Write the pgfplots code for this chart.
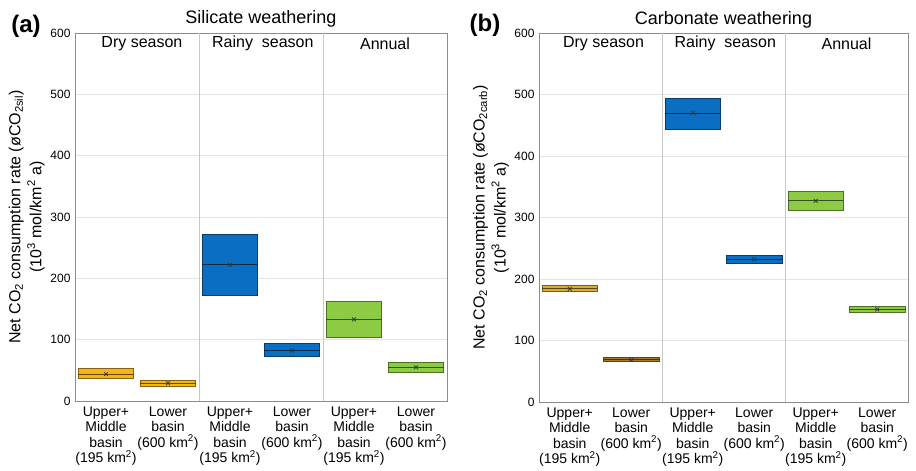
\documentclass[border=0pt]{standalone}
\usepackage{fontspec}
\setmainfont{Liberation Sans}
\usepackage{pgfplots}
\pgfplotsset{compat=1.18}
\definecolor{dryA}{HTML}{F5B417}
\definecolor{dryB}{HTML}{F5B417}
\definecolor{dryC}{HTML}{D9AE2E}
\definecolor{dryD}{HTML}{A8782A}
\definecolor{rainy}{HTML}{0A6FC2}
\definecolor{annual}{HTML}{8DCB45}
\definecolor{gridc}{HTML}{E3E3E3}
\definecolor{divc}{HTML}{C8C8C8}
% #1 left, #2 right, #3 lower quartile, #4 median, #5 upper quartile, #6 colour
\newcommand{\bx}[6]{%
  \addplot[fill=#6, draw=#6!55!black, line width=0.8pt]
    coordinates {(#1,#3) (#2,#3) (#2,#5) (#1,#5)} -- cycle;
  \addplot[draw=#6!40!black, line width=0.8pt]
    coordinates {(#1,#4) (#2,#4)};}
\pgfplotsset{
  mystyle/.style={
    scale only axis,
    ymin=0, ymax=600, ytick={0,100,...,600},
    xmin=-0.5, xmax=5.5,
    xtick={0,...,5},
    xticklabels={{Upper+\\Middle\\basin\\(195 km\textsuperscript{2})},{Lower\\basin\\(600 km\textsuperscript{2})},
                 {Upper+\\Middle\\basin\\(195 km\textsuperscript{2})},{Lower\\basin\\(600 km\textsuperscript{2})},
                 {Upper+\\Middle\\basin\\(195 km\textsuperscript{2})},{Lower\\basin\\(600 km\textsuperscript{2})}},
    xticklabel style={align=center, font=\fontsize{14}{15.5}\selectfont, yshift=-2pt},
    yticklabel style={font=\fontsize{12}{14}\selectfont, xshift=-1pt},
    /pgf/number format/assume math mode=true,
    major tick length=0pt,
    ymajorgrids, grid style={gridc, line width=0.8pt},
    axis line style={black!45, line width=0.9pt},
    title style={font=\fontsize{18}{20}\selectfont, at={(0.5,1)}, anchor=base, yshift=3pt},
    ylabel style={font=\fontsize{16}{21}\selectfont, align=center, anchor=south, inner sep=0pt},
    clip=false,
  }
}
\begin{document}
\begin{tikzpicture}
\useasboundingbox (-75pt,-70pt) rectangle (841pt,401pt);
\begin{axis}[mystyle, width=372pt, height=368pt, at={(0pt,0pt)},
  title={Silicate weathering},
  ylabel style={at={(axis description cs:-0.081,0.5)}},
  ylabel={Net CO\textsubscript{2} consumption rate (øCO\textsubscript{2sil})\\(10\textsuperscript{3} mol/km\textsuperscript{2} a)}]
\addplot[divc, line width=0.9pt] coordinates {(1.5,0) (1.5,600)};
\addplot[divc, line width=0.9pt] coordinates {(3.5,0) (3.5,600)};
\bx{-0.45}{0.45}{37}{44}{52.5}{dryA}
\bx{0.55}{1.45}{23}{29}{34}{dryB}
\bx{1.55}{2.45}{172}{222}{272}{rainy}
\bx{2.55}{3.45}{72}{82}{93.5}{rainy}
\bx{3.55}{4.45}{103}{133}{162.5}{annual}
\bx{4.55}{5.45}{47}{55.5}{63.5}{annual}
\addplot[only marks, mark=x, mark size=2.8pt, black!80, line width=0.7pt]
  coordinates {(0,44) (1,29) (2,222) (3,82) (4,133) (5,55)};
\node[font=\fontsize{16}{18}\selectfont] at (axis cs:0.58,583) {Dry season};
\node[font=\fontsize{16}{18}\selectfont] at (axis cs:2.53,583) {Rainy\ \ season};
\node[font=\fontsize{16}{18}\selectfont] at (axis cs:4.5,583) {Annual};
\end{axis}
\begin{axis}[mystyle, width=369pt, height=369pt, at={(464pt,-1pt)},
  title={Carbonate weathering},
  ylabel style={at={(axis description cs:-0.081,0.5)}},
  ylabel={Net CO\textsubscript{2} consumption rate (øCO\textsubscript{2carb})\\(10\textsuperscript{3} mol/km\textsuperscript{2} a)}]
\addplot[divc, line width=0.9pt] coordinates {(1.5,0) (1.5,600)};
\addplot[divc, line width=0.9pt] coordinates {(3.5,0) (3.5,600)};
\bx{-0.45}{0.45}{180}{184.5}{189}{dryC}
\bx{0.55}{1.45}{65.5}{68.5}{72}{dryD}
\bx{1.55}{2.45}{444}{469.5}{494}{rainy}
\bx{2.55}{3.45}{226}{232}{238.5}{rainy}
\bx{3.55}{4.45}{312}{327}{342}{annual}
\bx{4.55}{5.45}{146}{150.5}{155}{annual}
\addplot[only marks, mark=x, mark size=2.8pt, black!80, line width=0.7pt]
  coordinates {(0,184) (1,68.5) (2,470) (3,232) (4,327) (5,150.5)};
\node[font=\fontsize{16}{18}\selectfont] at (axis cs:0.55,583) {Dry season};
\node[font=\fontsize{16}{18}\selectfont] at (axis cs:2.53,583) {Rainy\ \ season};
\node[font=\fontsize{16}{18}\selectfont] at (axis cs:4.5,583) {Annual};
\end{axis}
\node[font=\fontsize{24}{26}\selectfont\bfseries] at (-49pt,375pt) {(a)};
\node[font=\fontsize{24}{26}\selectfont\bfseries] at (410pt,376pt) {(b)};
\end{tikzpicture}
\end{document}
